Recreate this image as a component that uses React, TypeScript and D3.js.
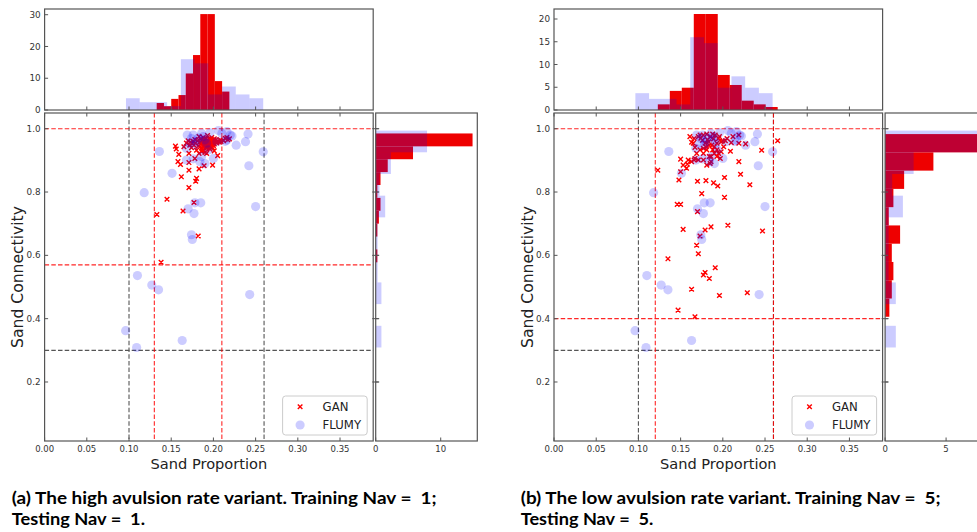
import React from "react";
import * as d3 from "d3";

const W = 977;
const H = 532;

// FLUMY reference samples (same in both panels): [sand proportion, sand connectivity]
const flumyPoints: [number, number][] = [
  [0.136, 0.928], [0.151, 0.859], [0.118, 0.798], [0.170, 0.747], [0.177, 0.732], [0.185, 0.766],
  [0.178, 0.766], [0.174, 0.665], [0.175, 0.650], [0.110, 0.536], [0.127, 0.506], [0.135, 0.491],
  [0.243, 0.476], [0.096, 0.362], [0.109, 0.309], [0.163, 0.331], [0.250, 0.754], [0.242, 0.883],
  [0.259, 0.927], [0.241, 0.983], [0.238, 0.959], [0.227, 0.948], [0.220, 0.980], [0.216, 0.991],
  [0.206, 0.994], [0.196, 0.987], [0.186, 0.985], [0.176, 0.980], [0.169, 0.980], [0.174, 0.969],
  [0.168, 0.901], [0.184, 0.896], [0.190, 0.890], [0.200, 0.906], [0.172, 0.954], [0.180, 0.959],
  [0.192, 0.954], [0.204, 0.959], [0.216, 0.964], [0.222, 0.977], [0.188, 0.975], [0.168, 0.938],
  [0.194, 0.933], [0.210, 0.985], [0.176, 0.905], [0.186, 0.912], [0.182, 0.970], [0.190, 0.965],
  [0.178, 0.948], [0.214, 0.960],
];

// GAN samples, panel (a)
const ganPointsA: [number, number][] = [
  [0.133, 0.729], [0.138, 0.578], [0.145, 0.777], [0.156, 0.936], [0.158, 0.896], [0.159, 0.919],
  [0.161, 0.887], [0.162, 0.848], [0.164, 0.740], [0.165, 0.943], [0.171, 0.814], [0.171, 0.869],
  [0.171, 0.893], [0.171, 0.922], [0.177, 0.767], [0.178, 0.906], [0.179, 0.834], [0.180, 0.843],
  [0.182, 0.661], [0.183, 0.873], [0.183, 0.922], [0.186, 0.927], [0.189, 0.883], [0.192, 0.922],
  [0.195, 0.938], [0.199, 0.885], [0.205, 0.915], [0.155, 0.945],
  [0.168, 0.955], [0.170, 0.962], [0.172, 0.948], [0.173, 0.958], [0.174, 0.940], [0.175, 0.952],
  [0.176, 0.960], [0.177, 0.948], [0.178, 0.966], [0.179, 0.955], [0.180, 0.932], [0.181, 0.962],
  [0.182, 0.945], [0.183, 0.975],
  [0.184, 0.958], [0.185, 0.950], [0.185, 0.968], [0.186, 0.940], [0.186, 0.962], [0.187, 0.955],
  [0.187, 0.930], [0.188, 0.972], [0.188, 0.948], [0.189, 0.960], [0.189, 0.942], [0.190, 0.953],
  [0.190, 0.965], [0.190, 0.925], [0.191, 0.958], [0.191, 0.946], [0.191, 0.970], [0.192, 0.952],
  [0.192, 0.938], [0.192, 0.962], [0.193, 0.955], [0.193, 0.945], [0.193, 0.978],
  [0.194, 0.960], [0.194, 0.950], [0.195, 0.968], [0.195, 0.956], [0.195, 0.944], [0.196, 0.962],
  [0.196, 0.952], [0.196, 0.935], [0.197, 0.958], [0.197, 0.966], [0.197, 0.948], [0.198, 0.955],
  [0.198, 0.962], [0.198, 0.972], [0.199, 0.950], [0.199, 0.958], [0.199, 0.940], [0.200, 0.965],
  [0.200, 0.954], [0.200, 0.946], [0.201, 0.960], [0.201, 0.968], [0.201, 0.952], [0.201, 0.930],
  [0.202, 0.958], [0.203, 0.965], [0.204, 0.955], [0.205, 0.962], [0.207, 0.957], [0.208, 0.965],
  [0.209, 0.960], [0.212, 0.962], [0.214, 0.970], [0.216, 0.972], [0.217, 0.965], [0.219, 0.968],
];

// GAN samples, panel (b)
const ganPointsB: [number, number][] = [
  [0.123, 0.869], [0.135, 0.589], [0.146, 0.761], [0.150, 0.761], [0.148, 0.838], [0.150, 0.864],
  [0.150, 0.904], [0.147, 0.427], [0.153, 0.682], [0.158, 0.888], [0.163, 0.493], [0.167, 0.406],
  [0.169, 0.632], [0.171, 0.605], [0.170, 0.738], [0.170, 0.834], [0.175, 0.795], [0.177, 0.538],
  [0.179, 0.546], [0.184, 0.527], [0.179, 0.680], [0.173, 0.661], [0.180, 0.836], [0.186, 0.690],
  [0.191, 0.561], [0.189, 0.829], [0.194, 0.819], [0.196, 0.473], [0.202, 0.846], [0.202, 0.783],
  [0.206, 0.695], [0.219, 0.896], [0.221, 0.856], [0.232, 0.823], [0.229, 0.482], [0.247, 0.677],
  [0.246, 0.932], [0.265, 0.962],
  [0.161, 0.975], [0.163, 0.957], [0.165, 0.954], [0.167, 0.941], [0.157, 0.875], [0.163, 0.896],
  [0.166, 0.901], [0.167, 0.906], [0.177, 0.938], [0.177, 0.922], [0.177, 0.901], [0.181, 0.885],
  [0.186, 0.896], [0.184, 0.912], [0.188, 0.933], [0.193, 0.933], [0.197, 0.906], [0.198, 0.927],
  [0.193, 0.954], [0.198, 0.959], [0.209, 0.929], [0.210, 0.956], [0.212, 0.975], [0.219, 0.954],
  [0.227, 0.952], [0.219, 0.980], [0.173, 0.980], [0.171, 0.975], [0.177, 0.980], [0.185, 0.975],
  [0.191, 0.980], [0.188, 0.983], [0.183, 0.959], [0.181, 0.983], [0.205, 0.969], [0.195, 0.969],
  [0.173, 0.933], [0.181, 0.933], [0.190, 0.922], [0.195, 0.922], [0.169, 0.922], [0.171, 0.901],
  [0.185, 0.890], [0.200, 0.961], [0.166, 0.969], [0.176, 0.964], [0.187, 0.948], [0.190, 0.943],
  [0.193, 0.912], [0.180, 0.943], [0.186, 0.912], [0.153, 0.885], [0.159, 0.901], [0.179, 0.954],
  [0.201, 0.943], [0.203, 0.962], [0.174, 0.970], [0.182, 0.965], [0.189, 0.968], [0.196, 0.975],
  [0.184, 0.948],
];

// Histogram densities (10 bins each)
const flumyXRange = [0.0964, 0.259];
const flumyXDensity = [3.7, 2.45, 2.45, 1.23, 16.0, 14.7, 4.9, 7.4, 4.9, 3.7];
const flumyYRange = [0.309, 0.994];
const flumyYDensity = [0.88, 0, 0.88, 0.29, 0.29, 0.29, 1.46, 0.58, 2.34, 7.9];

const ganAXRange = [0.1328, 0.2189];
const ganAXDensity = [2.2, 1.2, 3.5, 4.7, 11.5, 17.3, 30.2, 30.2, 9.1, 5.8];
const ganAYRange = [0.578, 0.985];
const ganAYDensity = [0.25, 0, 0.25, 0.49, 0.74, 0.25, 0.74, 1.85, 5.74, 14.9];

const ganBXRange = [0.123, 0.265];
const ganBXDensity = [1.24, 4.2, 4.9, 21.1, 21.1, 7.7, 5.5, 2.05, 1.24, 0.66];
const ganBYRange = [0.406, 0.983];
const ganBYDensity = [0.35, 0.55, 0.68, 0.55, 1.23, 0.3, 0.68, 1.56, 3.96, 7.93];

// Ticks / reference lines / captions
const xTicks = [0, 0.05, 0.1, 0.15, 0.2, 0.25, 0.3, 0.35];
const yTicks = [0.2, 0.4, 0.6, 0.8, 1.0];
const topTicksA = [0, 10, 20, 30];
const topTicksB = [0, 5, 10, 15, 20];
const rightTicksA = [0, 10];
const rightTicksB = [0, 5];
const grayV = [0.1, 0.26];
const grayH = [0.3];
const redVA = [0.13, 0.21];
const redHA = [1.0, 0.57];
const redVB = [0.12, 0.26];
const redHB = [1.0, 0.4];
const captionA = ["(a) The high avulsion rate variant. Training Nav =  1;", "Testing Nav =  1."];
const captionB = ["(b) The low avulsion rate variant. Training Nav =  5;", "Testing Nav =  5."];
const legendLabels = ["GAN", "FLUMY"];

const RED = "#ee0000";
const BLUE = "#0000ff";
const SPINE = "#555";
const TXT = "#333";
const FONT = "DejaVu Sans, sans-serif";

function binEdges(range: number[], n: number) {
  const s = d3.scaleLinear().domain([0, n]).range(range);
  return d3.range(n + 1).map((i) => s(i));
}

type PanelCfg = {
  left: number;
  gan: [number, number][];
  ganX: number[];
  ganXRange: number[];
  ganY: number[];
  ganYRange: number[];
  topMax: number;
  topTicks: number[];
  rightMax: number;
  rightTicks: number[];
  redV: number[];
  redH: number[];
  caption: string[];
  captionX: number;
  captionW: number[];
};

function Panel({ p }: { p: PanelCfg }) {
  const pw = 328.6;
  const x0 = p.left;
  const x = d3.scaleLinear().domain([0, 0.3893]).range([x0, x0 + pw]);
  const y = d3.scaleLinear().domain([0.0136, 1.0496]).range([441, 113]);
  const yTop = d3.scaleLinear().domain([0, p.topMax]).range([110, 9]);
  const rx0 = x0 + 331.1;
  const rw = 101.6;
  const xr = d3.scaleLinear().domain([0, p.rightMax]).range([rx0, rx0 + rw]);

  const topBars = (range: number[], dens: number[], fill: string, op: number, key: string) => {
    const e = binEdges(range, dens.length);
    return dens.map((d, i) =>
      d > 0 ? (
        <rect key={key + i} x={x(e[i])} width={x(e[i + 1]) - x(e[i])} y={yTop(d)} height={yTop(0) - yTop(d)} fill={fill} fillOpacity={op} />
      ) : null
    );
  };
  const rightBars = (range: number[], dens: number[], fill: string, op: number, key: string) => {
    const e = binEdges(range, dens.length);
    return dens.map((d, i) =>
      d > 0 ? (
        <rect key={key + i} x={xr(0)} width={xr(d) - xr(0)} y={y(e[i + 1])} height={y(e[i]) - y(e[i + 1])} fill={fill} fillOpacity={op} />
      ) : null
    );
  };

  const s = 2.3;
  const xMark = (cx: number, cy: number) => `M${cx - s},${cy - s}L${cx + s},${cy + s}M${cx - s},${cy + s}L${cx + s},${cy - s}`;

  const lgX = x(0.3893) - 6;
  const lg = { x: lgX - 84.6, y: 396, w: 84.6, h: 39 };

  return (
    <g>
      {/* top histogram */}
      <g>
        {topBars(p.ganXRange, p.ganX, RED, 1, "tg")}
        {topBars(flumyXRange, flumyXDensity, BLUE, 0.2, "tf")}
        <rect x={x0} y={9} width={pw} height={101} fill="none" stroke={SPINE} strokeWidth={1.2} />
        {p.topTicks.map((t) => (
          <g key={"tt" + t}>
            <line x1={x0} x2={x0 + 3.5} y1={yTop(t)} y2={yTop(t)} stroke={SPINE} />
            <text x={x0 - 4} y={yTop(t)} dy="0.35em" textAnchor="end" fontSize={8.8} fontFamily={FONT} fill={TXT}>
              {t}
            </text>
          </g>
        ))}
        {xTicks.slice(1).map((t) => (
          <line key={"tx" + t} x1={x(t)} x2={x(t)} y1={110} y2={106.5} stroke={SPINE} />
        ))}
      </g>

      {/* scatter */}
      <g>
        {grayV.map((v) => (
          <line key={"gv" + v} x1={x(v)} x2={x(v)} y1={113} y2={441} stroke="#555" strokeWidth={1.1} strokeDasharray="4.5,2.2" />
        ))}
        {grayH.map((v) => (
          <line key={"gh" + v} x1={x0} x2={x0 + pw} y1={y(v)} y2={y(v)} stroke="#555" strokeWidth={1.1} strokeDasharray="4.5,2.2" />
        ))}
        {p.redV.map((v) => (
          <line key={"rv" + v} x1={x(v)} x2={x(v)} y1={113} y2={441} stroke="#f00" strokeOpacity={0.85} strokeWidth={1.1} strokeDasharray="4.5,2.2" />
        ))}
        {p.redH.map((v) => (
          <line key={"rh" + v} x1={x0} x2={x0 + pw} y1={y(v)} y2={y(v)} stroke="#f00" strokeOpacity={0.85} strokeWidth={1.1} strokeDasharray="4.5,2.2" />
        ))}
        <path d={p.gan.map((d) => xMark(x(d[0]), y(d[1]))).join("")} stroke="#f00" strokeWidth={1.4} fill="none" />
        {flumyPoints.map((d, i) => (
          <circle key={"f" + i} cx={x(d[0])} cy={y(d[1])} r={4.6} fill={BLUE} fillOpacity={0.2} />
        ))}
        <rect x={x0} y={113} width={pw} height={328} fill="none" stroke={SPINE} strokeWidth={1.2} />
        {yTicks.map((t) => (
          <g key={"yt" + t}>
            <line x1={x0} x2={x0 + 3.5} y1={y(t)} y2={y(t)} stroke={SPINE} />
            <line x1={x0 + pw - 1} x2={x0 + pw + 6} y1={y(t)} y2={y(t)} stroke={SPINE} />
            <text x={x0 - 4} y={y(t)} dy="0.35em" textAnchor="end" fontSize={8.8} fontFamily={FONT} fill={TXT}>
              {d3.format(".1f")(t)}
            </text>
          </g>
        ))}
        {xTicks.map((t) => (
          <g key={"xt" + t}>
            <line x1={x(t)} x2={x(t)} y1={441} y2={437.5} stroke={SPINE} />
            <line x1={x(t)} x2={x(t)} y1={113} y2={116.5} stroke={SPINE} />
            <text x={x(t)} y={452} textAnchor="middle" fontSize={8.5} fontFamily={FONT} fill={TXT}>
              {d3.format(".2f")(t)}
            </text>
          </g>
        ))}
        {/* legend */}
        <rect x={lg.x} y={lg.y} width={lg.w} height={lg.h} rx={3} fill="#fff" fillOpacity={0.85} stroke="#ccc" strokeWidth={1} />
        <path d={xMark(lg.x + 17.5, lg.y + 10.8)} stroke="#f00" strokeWidth={1.4} fill="none" />
        <circle cx={lg.x + 17.5} cy={lg.y + 29} r={4.6} fill={BLUE} fillOpacity={0.2} />
        <text x={lg.x + 40} y={lg.y + 15} fontSize={11.7} fontFamily={FONT} fill="#222">
          {legendLabels[0]}
        </text>
        <text x={lg.x + 40} y={lg.y + 33.2} fontSize={11.7} fontFamily={FONT} fill="#222">
          {legendLabels[1]}
        </text>
        <text x={x0 + pw / 2} y={468.5} textAnchor="middle" fontSize={14.6} fontFamily={FONT} fill="#222">
          Sand Proportion
        </text>
        <text transform={`translate(${x0 - 21.5},277) rotate(-90)`} textAnchor="middle" fontSize={15.6} fontFamily={FONT} fill="#222">
          Sand Connectivity
        </text>
      </g>

      {/* right histogram */}
      <g>
        {rightBars(p.ganYRange, p.ganY, RED, 1, "rg")}
        {rightBars(flumyYRange, flumyYDensity, BLUE, 0.2, "rf")}
        <rect x={rx0} y={113} width={rw} height={328} fill="none" stroke={SPINE} strokeWidth={1.2} />
        {yTicks.map((t) => (
          <line key={"ry" + t} x1={rx0} x2={rx0 + 3} y1={y(t)} y2={y(t)} stroke={SPINE} />
        ))}
        {p.rightTicks.map((t) => (
          <g key={"rt" + t}>
            <line x1={xr(t)} x2={xr(t)} y1={441} y2={437.5} stroke={SPINE} />
            <text x={xr(t)} y={452} textAnchor="middle" fontSize={8.5} fontFamily={FONT} fill={TXT}>
              {t}
            </text>
          </g>
        ))}
      </g>

      {/* caption */}
      <text x={p.captionX} y={503.5} fontSize={17.5} fontWeight="bold" fontFamily="Lato, sans-serif" fill="#000" style={{ whiteSpace: "pre" }} textLength={p.captionW[0]} lengthAdjust="spacingAndGlyphs">
        {p.caption[0]}
      </text>
      <text x={p.captionX} y={525} fontSize={17.5} fontWeight="bold" fontFamily="Lato, sans-serif" fill="#000" style={{ whiteSpace: "pre" }} textLength={p.captionW[1]} lengthAdjust="spacingAndGlyphs">
        {p.caption[1]}
      </text>
    </g>
  );
}

export default function App() {
  const panels: PanelCfg[] = [
    {
      left: 44.6, gan: ganPointsA, ganX: ganAXDensity, ganXRange: ganAXRange, ganY: ganAYDensity, ganYRange: ganAYRange,
      topMax: 31.8, topTicks: topTicksA, rightMax: 15.63, rightTicks: rightTicksA, redV: redVA, redH: redHA,
      caption: captionA, captionX: 11.7, captionW: [425, 133.3],
    },
    {
      left: 554, gan: ganPointsB, ganX: ganBXDensity, ganXRange: ganBXRange, ganY: ganBYDensity, ganYRange: ganBYRange,
      topMax: 22.2, topTicks: topTicksB, rightMax: 8.33, rightTicks: rightTicksB, redV: redVB, redH: redHB,
      caption: captionB, captionX: 520.7, captionW: [420, 132.6],
    },
  ];
  return (
    <div style={{ position: "absolute", left: 0, top: 0, width: W, height: H, background: "#fff" }}>
      <svg width={W} height={H} viewBox={`0 0 ${W} ${H}`} style={{ display: "block" }}>
        <rect width={W} height={H} fill="#fff" />
        {panels.map((p, i) => (
          <Panel key={i} p={p} />
        ))}
      </svg>
    </div>
  );
}
